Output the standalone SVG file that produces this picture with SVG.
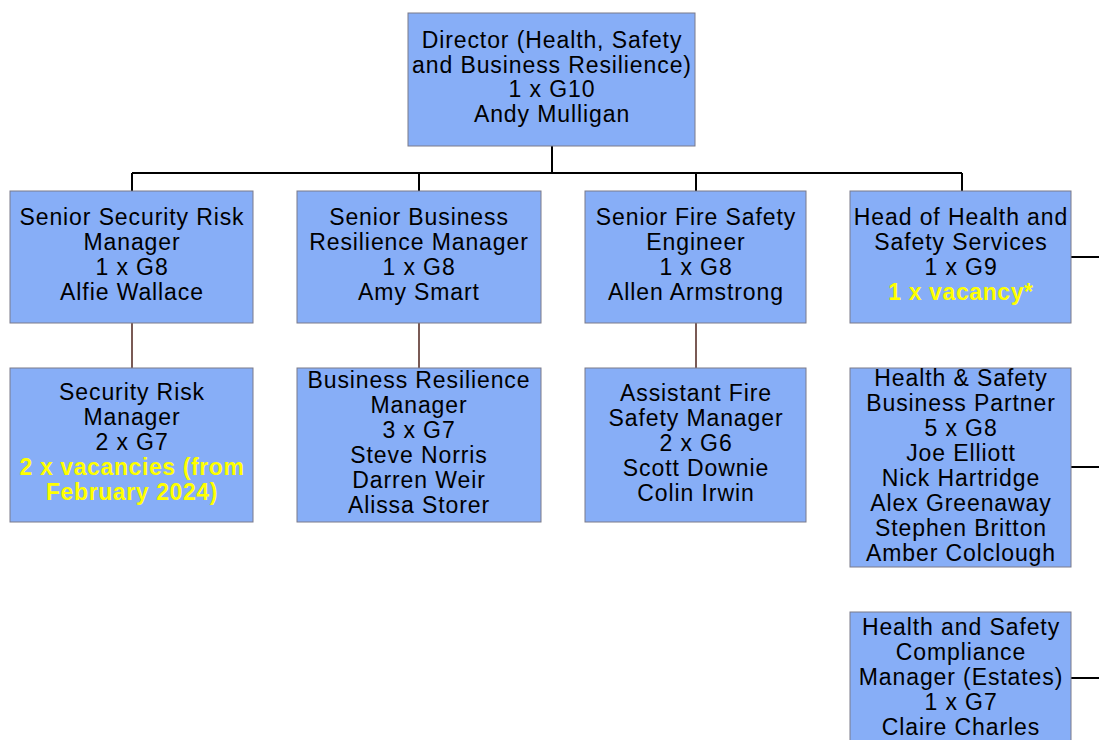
<svg xmlns="http://www.w3.org/2000/svg" width="1099" height="740" viewBox="0 0 1099 740">
<style>
.box{fill:#87aef7;stroke:#7a7a8a;stroke-width:1}
text{font-family:"Liberation Sans",Arial,sans-serif;font-size:23px;letter-spacing:0.9px;fill:#000;text-anchor:middle}
.vac{fill:#ffff00;font-weight:bold;letter-spacing:0.6px}
.blk{stroke:#000;stroke-width:2;fill:none}
.brn{stroke:#7a5a55;stroke-width:2;fill:none}
</style>
<rect width="1099" height="740" fill="#fff"/>
<g id="connectors">
<path class="blk" d="M552,146 V173 M132,173 H962 M132,173 V191 M419,173 V191 M696,173 V191 M962,173 V191"/>
<path class="brn" d="M132,323 V368 M419,323 V368 M696,323 V368"/>
<path class="blk" d="M1071,257 H1099 M1071,467 H1099 M1071,678 H1099"/>
</g>
<g id="director">
<rect class="box" x="408" y="13" width="287" height="133"/>
<text x="552" y="48">Director (Health, Safety</text>
<text x="552" y="73">and Business Resilience)</text>
<text x="552" y="97">1 x G10</text>
<text x="552" y="122">Andy Mulligan</text>
</g>
<g id="senior-security">
<rect class="box" x="10" y="191" width="243" height="132"/>
<text x="132" y="225">Senior Security Risk</text>
<text x="132" y="250">Manager</text>
<text x="132" y="275">1 x G8</text>
<text x="132" y="300">Alfie Wallace</text>
</g>
<g id="senior-business">
<rect class="box" x="297" y="191" width="244" height="132"/>
<text x="419" y="225">Senior Business</text>
<text x="419" y="250">Resilience Manager</text>
<text x="419" y="275">1 x G8</text>
<text x="419" y="300">Amy Smart</text>
</g>
<g id="senior-fire">
<rect class="box" x="585" y="191" width="221" height="132"/>
<text x="696" y="225">Senior Fire Safety</text>
<text x="696" y="250">Engineer</text>
<text x="696" y="275">1 x G8</text>
<text x="696" y="300">Allen Armstrong</text>
</g>
<g id="head-hs">
<rect class="box" x="850" y="191" width="221" height="132"/>
<text x="961" y="225">Head of Health and</text>
<text x="961" y="250">Safety Services</text>
<text x="961" y="275">1 x G9</text>
<text x="961" y="300" class="vac">1 x vacancy*</text>
</g>
<g id="security-risk">
<rect class="box" x="10" y="368" width="243" height="154"/>
<text x="132" y="400">Security Risk</text>
<text x="132" y="425">Manager</text>
<text x="132" y="450">2 x G7</text>
<text x="132" y="475" class="vac">2 x vacancies (from</text>
<text x="132" y="500" class="vac">February 2024)</text>
</g>
<g id="business-resilience">
<rect class="box" x="297" y="368" width="244" height="154"/>
<text x="419" y="388">Business Resilience</text>
<text x="419" y="413">Manager</text>
<text x="419" y="438">3 x G7</text>
<text x="419" y="463">Steve Norris</text>
<text x="419" y="488">Darren Weir</text>
<text x="419" y="513">Alissa Storer</text>
</g>
<g id="assistant-fire">
<rect class="box" x="585" y="368" width="221" height="154"/>
<text x="696" y="401">Assistant Fire</text>
<text x="696" y="426">Safety Manager</text>
<text x="696" y="451">2 x G6</text>
<text x="696" y="476">Scott Downie</text>
<text x="696" y="501">Colin Irwin</text>
</g>
<g id="hs-business-partner">
<rect class="box" x="850" y="368" width="221" height="199"/>
<text x="961" y="386">Health &amp; Safety</text>
<text x="961" y="411">Business Partner</text>
<text x="961" y="436">5 x G8</text>
<text x="961" y="461">Joe Elliott</text>
<text x="961" y="486">Nick Hartridge</text>
<text x="961" y="511">Alex Greenaway</text>
<text x="961" y="536">Stephen Britton</text>
<text x="961" y="561">Amber Colclough</text>
</g>
<g id="hs-compliance">
<rect class="box" x="850" y="612" width="221" height="140"/>
<text x="961" y="635">Health and Safety</text>
<text x="961" y="660">Compliance</text>
<text x="961" y="685">Manager (Estates)</text>
<text x="961" y="710">1 x G7</text>
<text x="961" y="735">Claire Charles</text>
</g>
</svg>
